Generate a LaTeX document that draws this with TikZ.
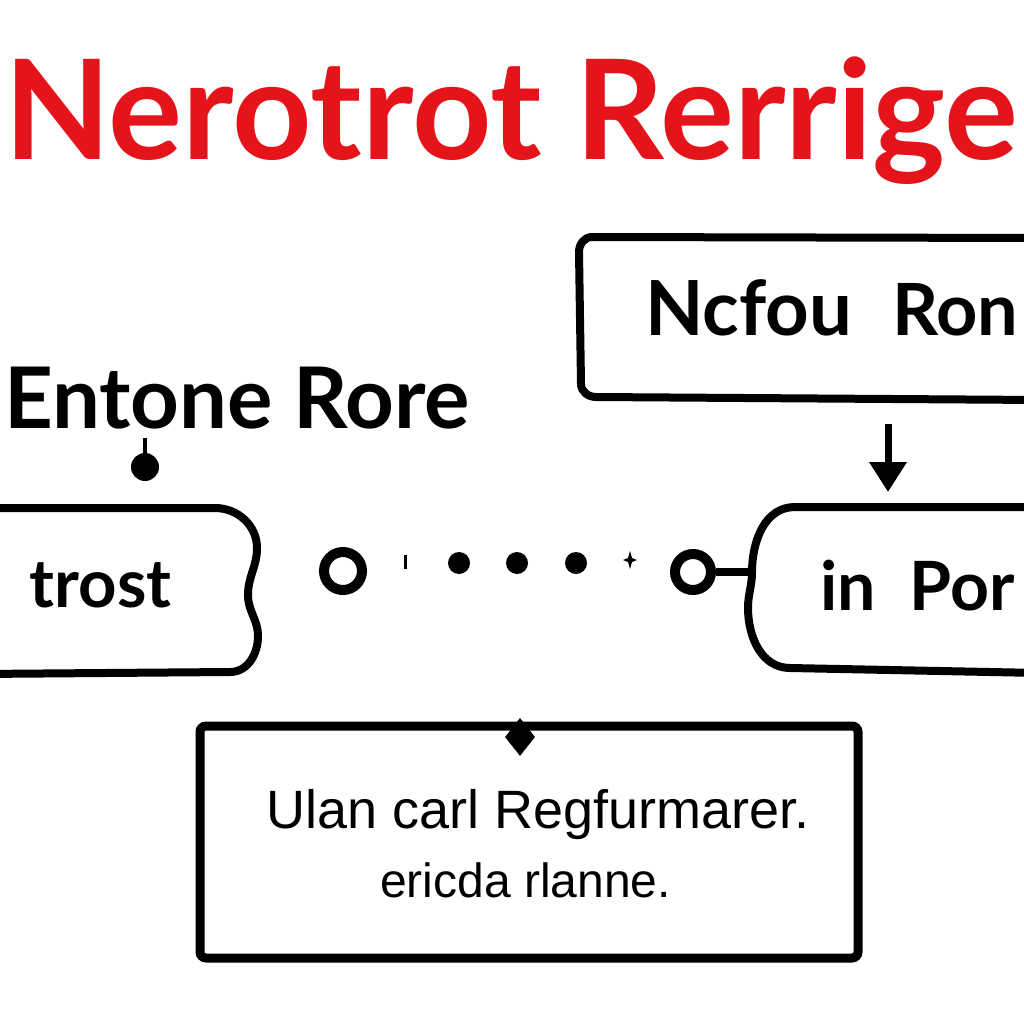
\documentclass[tikz,border=0pt]{standalone}
\usepackage{fontspec}
\setmainfont{Lato}
\newfontfamily\bodyfont{Liberation Sans}
\usetikzlibrary{arrows.meta,shapes.geometric}
\definecolor{tred}{HTML}{E5141B}
\tikzset{
  boxline/.style={line width=8pt, line join=round, line cap=round},
  lbl/.style={anchor=base west, inner sep=0pt, font=\bfseries},
  dotn/.style={circle, fill=black, inner sep=0pt, minimum size=22pt},
  ring/.style={circle, draw=black, line width=10pt, inner sep=0pt, minimum size=36pt},
}
\begin{document}
\begin{tikzpicture}[x=1pt,y=-1pt]
\useasboundingbox (0,0) rectangle (1024,1024);
\fill[white] (0,0) rectangle (1024,1024);
\clip (0,0) rectangle (1024,1024);

% title
\node[anchor=base west, inner sep=0pt, text=tred] (title) at (4,160)
  {\resizebox{1014pt}{!}{\fontsize{100}{100}\selectfont\bfseries Nerotrot Rerrige}};

% Entone Rore label with dot
\node[lbl] (entone) at (4,428) {\resizebox{466pt}{!}{\fontsize{80}{80}\selectfont\bfseries Entone Rore}};
\node[dotn, minimum size=28pt] (edot) at (145,467) {};
\coordinate (etail) at (145,438);
\draw[line width=4pt] (etail) -- (edot);

% left box
\draw[boxline] (-20,508) -- (215,508) to[out=0,in=90] (257,548)
  to[out=-90,in=90] (248,595) to[out=-90,in=90] (258,636)
  to[out=-90,in=0] (230,672) -- (-20,674);
\node[lbl, anchor=base east] (ltext) at (172,607) {\fontsize{67}{67}\selectfont trost};

% connector chain
\node[ring, minimum size=38pt] (c1) at (343,571) {};
\coordinate (tick) at (405,562);
\draw[line width=3pt] ([yshift=-7pt]tick) -- ([yshift=7pt]tick);
\node[dotn] (d1) at (459,563) {};
\node[dotn] (d2) at (517,563) {};
\node[dotn] (d3) at (576,563) {};
\coordinate (star) at (630,560);
\fill ([yshift=-9pt]star) -- ([xshift=2pt,yshift=-2pt]star) -- ([xshift=7pt]star)
  -- ([xshift=2pt,yshift=2pt]star) -- ([yshift=9pt]star) -- ([xshift=-2pt,yshift=2pt]star)
  -- ([xshift=-7pt]star) -- ([xshift=-2pt,yshift=-2pt]star) -- cycle;
\node[ring] (c2) at (693,572) {};
\coordinate (rbL) at (752,572);
\draw[line width=8pt] (c2.east) -- (rbL);

% top right box
\draw[boxline] (1040,238) -- (592,237) to[out=180,in=90] (579,252)
  -- (581,384) to[out=-90,in=180] (596,397) -- (1040,400);
\node[lbl] (ncfou) at (645,335) {\fontsize{76}{76}\selectfont Ncfou};
\node[lbl] (ron) at (892,335) {\fontsize{72}{72}\selectfont Ron};

% arrow
\coordinate (atop) at (888,424);
\coordinate (abot) at (888,492);
\draw[line width=7pt, -{Triangle[length=30pt,width=36pt]}] (atop) -- (abot);

% right middle box
\draw[boxline] (1040,507) -- (795,507) to[out=180,in=90] (rbL)
  to[out=-90,in=90] (748,608) to[out=-90,in=180] (790,668) -- (1040,673);
\node[lbl] (inpor) at (820,610) {\fontsize{68}{68}\selectfont in\hspace{0.5em}Por};

% bottom box
\draw[line width=9pt, rounded corners=6pt] (200,726) rectangle (858,958);
\node[fill=black, diamond, inner sep=0pt, minimum width=30pt, minimum height=38pt] (dia) at (520,737) {};
\node[anchor=base west, inner sep=0pt, font=\bodyfont\fontsize{54}{54}\selectfont] (l1) at (266,828) {Ulan carl Regfurmarer.};
\node[anchor=base west, inner sep=0pt, font=\bodyfont\fontsize{48}{48}\selectfont] (l2) at (380,897) {ericda rlanne.};
\end{tikzpicture}
\end{document}
